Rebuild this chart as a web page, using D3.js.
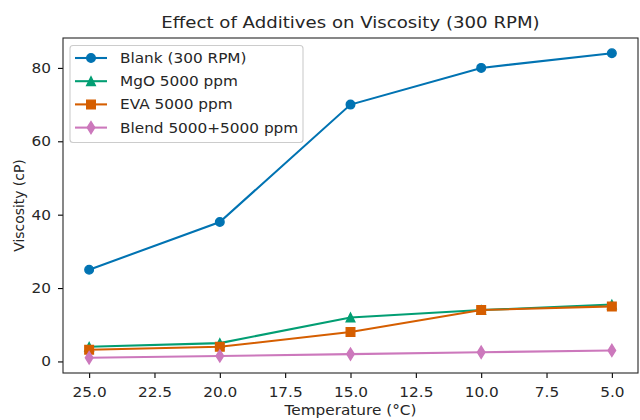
<!DOCTYPE html>
<html>
<head>
<meta charset="utf-8">
<script src="https://cdn.jsdelivr.net/npm/d3@7"></script>
<style>
  body { margin: 0; background: #fff; }
  svg { display: block; font-family: "DejaVu Sans", sans-serif; }
</style>
</head>
<body>
<svg id="chart" width="640" height="420"></svg>
<script>
// data
const temps = [25, 20, 15, 10, 5];
const blank = [25, 38, 70, 80, 84];
const mgo = [4, 5, 12, 14, 15.5];
const eva = [3.2, 4, 8, 14, 15];
const blend = [1, 1.5, 2, 2.5, 3];
const seriesNames = ['Blank (300 RPM)', 'MgO 5000 ppm', 'EVA 5000 ppm', 'Blend 5000+5000 ppm'];
const xTicks = [25, 22.5, 20, 17.5, 15, 12.5, 10, 7.5, 5];
const yTicks = [0, 20, 40, 60, 80];

const series = [
  { name: seriesNames[0], values: blank, color: '#0173b2', marker: 'circle' },
  { name: seriesNames[1], values: mgo, color: '#029e73', marker: 'triangle' },
  { name: seriesNames[2], values: eva, color: '#d55e00', marker: 'square' },
  { name: seriesNames[3], values: blend, color: '#cc78bc', marker: 'diamond' }
];

const svg = d3.select('#chart');
const mLeft = 63, mRight = 638, mTop = 38, mBottom = 373;
const stretch = 'scale(1.1,1)'; // the picture's text is a bit wide

const x = d3.scaleLinear().domain([26, 4]).range([mLeft, mRight]);
const y = d3.scaleLinear().domain([-3.15, 88.15]).range([mBottom, mTop]);

// axes
const xAxis = d3.axisBottom(x).tickValues(xTicks).tickFormat(d3.format('.1f')).tickSize(5);
const yAxis = d3.axisLeft(y).tickValues(yTicks).tickFormat(d3.format('d')).tickSize(5);

const gx = svg.append('g').attr('transform', 'translate(0,' + mBottom + ')').call(xAxis);
const gy = svg.append('g').attr('transform', 'translate(' + mLeft + ',0)').call(yAxis);
[gx, gy].forEach(g => {
  g.select('.domain').remove();
  g.selectAll('.tick line').attr('stroke', '#000').attr('stroke-width', 1.1);
  g.selectAll('.tick text').attr('fill', '#262626').style('font-size', '13.9px').style('font-family', 'DejaVu Sans');
});
gx.selectAll('.tick text').attr('y', 13.7).attr('transform', stretch);
gy.selectAll('.tick text').attr('x', 0).attr('transform', 'translate(-12,0) ' + stretch);

// frame
svg.append('rect')
  .attr('x', mLeft).attr('y', mTop)
  .attr('width', mRight - mLeft).attr('height', mBottom - mTop)
  .attr('fill', 'none').attr('stroke', '#262626').attr('stroke-width', 1.1);

// marker shapes
function markerPath(type) {
  const s = 8.6;
  if (type === 'circle') return d3.symbol(d3.symbolCircle, Math.PI * (s / 2) * (s / 2))();
  if (type === 'triangle') return `M0,${-s / 2}L${s / 2},${s / 2}L${-s / 2},${s / 2}Z`;
  if (type === 'square') return `M${-s / 2},${-s / 2}H${s / 2}V${s / 2}H${-s / 2}Z`;
  const h = s * 0.707, w = h * 0.62;
  return `M0,${-h}L${w},0L0,${h}L${-w},0Z`;
}

const line = d3.line().x((d, i) => x(temps[i])).y(d => y(d));

series.forEach(s => {
  const g = svg.append('g');
  g.append('path')
    .attr('d', line(s.values))
    .attr('fill', 'none')
    .attr('stroke', s.color)
    .attr('stroke-width', 2.08);
  g.selectAll('path.m')
    .data(s.values)
    .enter()
    .append('path')
    .attr('class', 'm')
    .attr('d', markerPath(s.marker))
    .attr('transform', (d, i) => 'translate(' + x(temps[i]) + ',' + y(d) + ')')
    .attr('fill', s.color)
    .attr('stroke', s.color)
    .attr('stroke-width', 1.39);
});

// title and labels
svg.append('text')
  .attr('transform', 'translate(' + (mLeft + mRight) / 2 + ',28) ' + stretch)
  .attr('text-anchor', 'middle')
  .attr('fill', '#262626')
  .style('font-size', '16.5px')
  .text('Effect of Additives on Viscosity (300 RPM)');

svg.append('text')
  .attr('transform', 'translate(' + (mLeft + mRight) / 2 + ',415) ' + stretch)
  .attr('text-anchor', 'middle')
  .attr('fill', '#262626')
  .style('font-size', '13.9px')
  .text('Temperature (°C)');

svg.append('text')
  .attr('transform', 'translate(24,' + (mTop + mBottom) / 2 + ') rotate(-90)')
  .attr('text-anchor', 'middle')
  .attr('fill', '#262626')
  .style('font-size', '13.9px')
  .text('Viscosity (cP)');

// legend
const legend = svg.append('g');
legend.append('rect')
  .attr('x', 70).attr('y', 45.5)
  .attr('width', 233).attr('height', 97)
  .attr('rx', 3)
  .attr('fill', 'rgba(255,255,255,0.8)')
  .attr('stroke', '#cccccc')
  .attr('stroke-width', 1.1);

series.forEach((s, i) => {
  const ly = 58 + i * 23.2;
  legend.append('line')
    .attr('x1', 75).attr('x2', 107)
    .attr('y1', ly).attr('y2', ly)
    .attr('stroke', s.color).attr('stroke-width', 2.08);
  legend.append('path')
    .attr('d', markerPath(s.marker))
    .attr('transform', 'translate(91,' + ly + ')')
    .attr('fill', s.color)
    .attr('stroke', s.color)
    .attr('stroke-width', 1.39);
  legend.append('text')
    .attr('transform', 'translate(120,' + (ly + 5) + ') ' + stretch)
    .attr('fill', '#262626')
    .style('font-size', '13.9px')
    .text(s.name);
});
</script>
</body>
</html>
